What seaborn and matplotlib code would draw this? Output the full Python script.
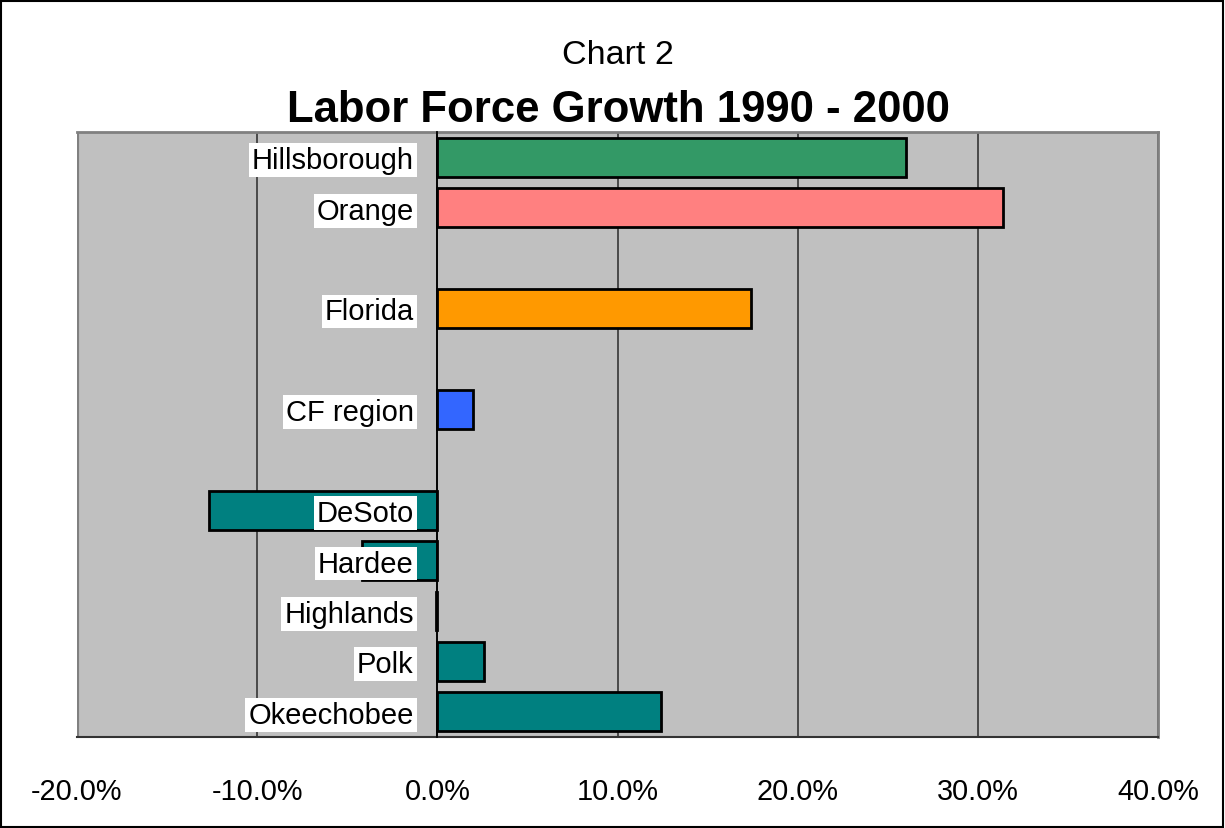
import matplotlib
matplotlib.use("Agg")
import matplotlib.pyplot as plt
import seaborn as sns
import pandas as pd
from matplotlib.patches import Rectangle
from matplotlib.ticker import FuncFormatter

# --- Data ---
names = ["Hillsborough", "Orange", "Florida", "CF region",
         "DeSoto", "Hardee", "Highlands", "Polk", "Okeechobee"]
growth = [26.0, 31.4, 17.4, 2.0, -12.7, -4.2, -0.1, 2.6, 12.4]
colors = ["#339966", "#FF8080", "#FF9900", "#3366FF",
          "#008080", "#008080", "#008080", "#008080", "#008080"]
# category slots, with empty gaps between the groups
slots = ["Hillsborough", "Orange", "_gap1", "Florida", "_gap2", "CF region",
         "_gap3", "DeSoto", "Hardee", "Highlands", "Polk", "Okeechobee"]
xticks = [-20, -10, 0, 10, 20, 30, 40]

df = pd.DataFrame({"name": names, "growth": growth})
palette = dict(zip(names, colors))

sns.set_style("white")
plt.rcParams["font.family"] = ["Liberation Sans", "DejaVu Sans"]
plt.rcParams["text.color"] = "black"
plt.rcParams["xtick.color"] = "black"
plt.rcParams["ytick.color"] = "black"

fig = plt.figure(figsize=(12.25, 8.29), dpi=100)
ax = fig.add_axes([77 / 1225, 1 - 738 / 829, (1158 - 77) / 1225, (738 - 133) / 829])
ax.set_facecolor("#C0C0C0")

sns.barplot(data=df, x="growth", y="name", hue="name", palette=palette,
            order=slots, orient="h", width=0.77, saturation=1,
            edgecolor="black", linewidth=2, legend=False, ax=ax, zorder=3)

ax.set_xlim(-20, 40)
ax.set_ylim(len(slots) - 0.5, -0.5)
ax.set_xticks(xticks)
ax.xaxis.set_major_formatter(FuncFormatter(lambda v, p: f"{v:.1f}%"))
ax.tick_params(axis="x", direction="out", length=10, width=1.2, color="#333333",
               labelsize=20.8, pad=19)
ax.grid(axis="x", color="#404040", linewidth=1.3, zorder=1)
ax.set_axisbelow(True)

# category axis crosses at 0
ax.spines["left"].set_position(("data", 0))
ax.spines["left"].set_color("black")
ax.spines["left"].set_linewidth(1.3)
ax.spines["left"].set_zorder(4)
for s in ["top", "right"]:
    ax.spines[s].set_color("#808080")
    ax.spines[s].set_linewidth(2)
ax.spines["bottom"].set_color("#333333")
ax.spines["bottom"].set_linewidth(1.5)
ax.axvline(-20, color="#808080", linewidth=3)

label_pos = [i for i, s in enumerate(slots) if not s.startswith("_")]
ax.set_yticks(label_pos)
ax.set_yticklabels([slots[i] for i in label_pos])
ax.set_yticks([i - 0.5 for i in range(len(slots))], minor=True)
ax.tick_params(axis="y", which="major", length=0, labelsize=21, pad=17)
ax.tick_params(axis="y", which="minor", length=7, width=1.5, color="#333333",
               direction="out")
for t in ax.get_yticklabels():
    t.set_bbox(dict(facecolor="white", edgecolor="none", boxstyle="square,pad=0.1"))
# labels sit on top of the bars
ax.yaxis.set_zorder(5)

ax.set_xlabel("")
ax.set_ylabel("")

fig.text(618 / 1225, 1 - 56 / 829, "Chart 2", ha="center", va="center", fontsize=24.5)
fig.text(618 / 1225, 1 - 110 / 829, "Labor Force Growth 1990 - 2000",
         ha="center", va="center", fontsize=31.5, fontweight="bold")

fig.patches.append(Rectangle((0.001, 0.001), 0.997, 0.997, transform=fig.transFigure,
                             fill=False, edgecolor="black", linewidth=1.5))

fig.savefig("out.png", dpi=100)
